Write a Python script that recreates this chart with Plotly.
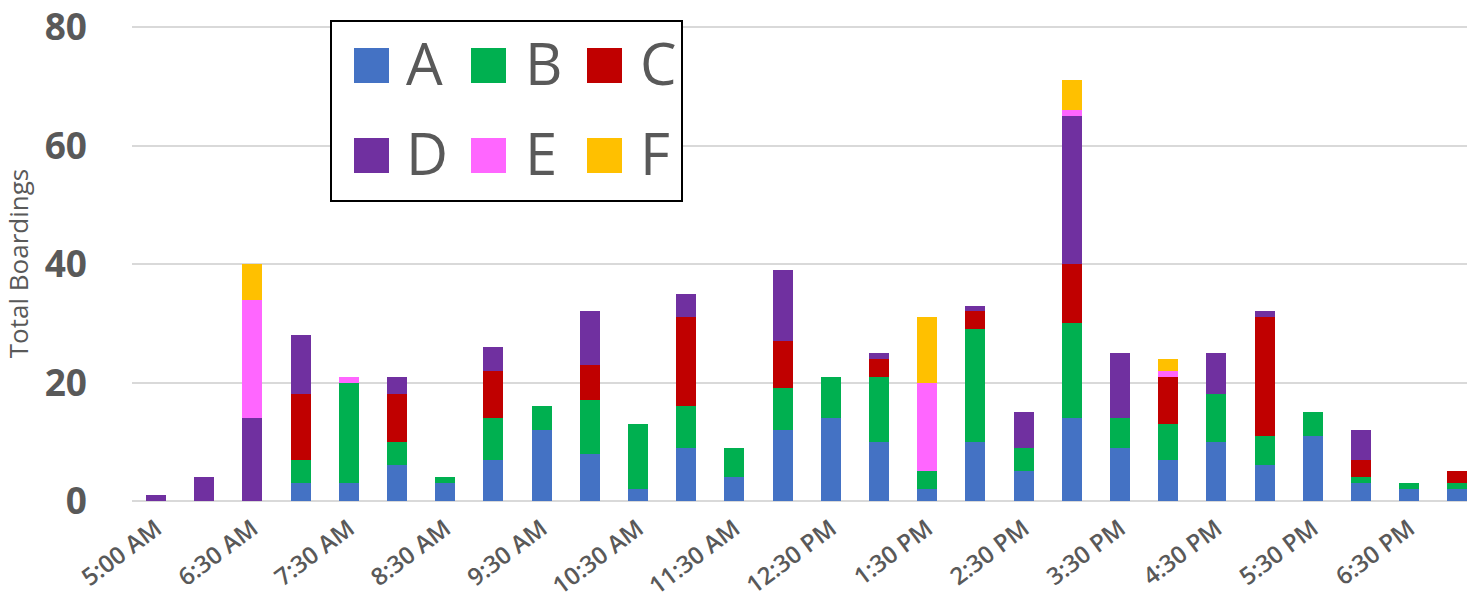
import plotly.graph_objects as go

times = ["5:00 AM", "6:00 AM", "6:30 AM", "7:00 AM", "7:30 AM", "8:00 AM", "8:30 AM",
         "9:00 AM", "9:30 AM", "10:00 AM", "10:30 AM", "11:00 AM", "11:30 AM", "12:00 PM",
         "12:30 PM", "1:00 PM", "1:30 PM", "2:00 PM", "2:30 PM", "3:00 PM", "3:30 PM",
         "4:00 PM", "4:30 PM", "5:00 PM", "5:30 PM", "6:00 PM", "6:30 PM", "7:00 PM"]
tick_labels = times[0::2]

series_names = ["A", "B", "C", "D", "E", "F"]
series_colors = ["#4472C4", "#00B050", "#C00000", "#7030A0", "#FF66FF", "#FFC000"]

A = [0, 0, 0, 3, 3, 6, 3, 7, 12, 8, 2, 9, 4, 12, 14, 10, 2, 10, 5, 14, 9, 7, 10, 6, 11, 3, 2, 2]
B = [0, 0, 0, 4, 17, 4, 1, 7, 4, 9, 11, 7, 5, 7, 7, 11, 3, 19, 4, 16, 5, 6, 8, 5, 4, 1, 1, 1]
C = [0, 0, 0, 11, 0, 8, 0, 8, 0, 6, 0, 15, 0, 8, 0, 3, 0, 3, 0, 10, 0, 8, 0, 20, 0, 3, 0, 2]
D = [1, 4, 14, 10, 0, 3, 0, 4, 0, 9, 0, 4, 0, 12, 0, 1, 0, 1, 6, 25, 11, 0, 7, 1, 0, 5, 0, 0]
E = [0, 0, 20, 0, 1, 0, 0, 0, 0, 0, 0, 0, 0, 0, 0, 0, 15, 0, 0, 1, 0, 1, 0, 0, 0, 0, 0, 0]
F = [0, 0, 6, 0, 0, 0, 0, 0, 0, 0, 0, 0, 0, 0, 0, 0, 11, 0, 0, 5, 0, 2, 0, 0, 0, 0, 0, 0]
series_values = [A, B, C, D, E, F]

y_ticks = [0, 20, 40, 60, 80]
y_title = "Total Boardings"

TEXT = "#595959"
FONT = "Open Sans"

# body margin is removed after render, so the figure fills the 1467x602 window
W, H = 1467, 602
PLOT_L, PLOT_R, PLOT_T, PLOT_B = 132, 1467, 26, 501   # page pixels
ML, MR, MT, MB = PLOT_L, W - PLOT_R, PLOT_T, H - PLOT_B
PW, PH = PLOT_R - PLOT_L, PLOT_B - PLOT_T

fig = go.Figure()
for name, color, vals in zip(series_names, series_colors, series_values):
    fig.add_trace(go.Bar(x=times, y=vals, name=name, marker=dict(color=color, line=dict(width=0)),
                         showlegend=False))


def px_x(px):
    return (px - PLOT_L) / PW


def px_y(py):
    return (PLOT_B - py) / PH


# custom legend box with large square keys
shapes = [dict(type="rect", xref="paper", yref="paper", x0=px_x(331), x1=px_x(682),
               y0=px_y(201), y1=px_y(21), line=dict(color="black", width=2),
               fillcolor="white", layer="above")]
annotations = []
col_sq = [354, 471, 587]
col_tx = [404, 523, 638]
row_top = [48, 138]
sq = 35
for i, (name, color) in enumerate(zip(series_names, series_colors)):
    r, c = divmod(i, 3)
    shapes.append(dict(type="rect", xref="paper", yref="paper",
                       x0=px_x(col_sq[c]), x1=px_x(col_sq[c] + sq),
                       y0=px_y(row_top[r] + sq), y1=px_y(row_top[r]),
                       line=dict(width=0), fillcolor=color, layer="above"))
    annotations.append(dict(xref="paper", yref="paper", x=px_x(col_tx[c]),
                            y=px_y(row_top[r] + sq / 2 - 3), text=name, showarrow=False,
                            xanchor="left", yanchor="middle",
                            font=dict(family=FONT, size=58, color=TEXT)))

fig.update_layout(
    width=W, height=H,
    margin=dict(l=ML, r=MR, t=MT, b=MB, autoexpand=False),
    barmode="stack", bargap=0.585,
    plot_bgcolor="white", paper_bgcolor="white",
    font=dict(family=FONT, color=TEXT),
    shapes=shapes, annotations=annotations,
    xaxis=dict(
        type="category", categoryorder="array", categoryarray=times,
        range=[-0.5, 27.2], automargin=False,
        tickmode="array", tickvals=tick_labels, ticktext=tick_labels,
        tickangle=-37, tickfont=dict(family=FONT, size=24, color=TEXT, weight=600),
        ticklabelstandoff=8, ticklabeloverflow="allow",
        showgrid=False, showline=False, ticks="", zeroline=False,
    ),
    yaxis=dict(
        range=[0, 80.2], tickmode="array", tickvals=y_ticks, automargin=False,
        tickfont=dict(family=FONT, size=37, color=TEXT, weight="bold"),
        ticklabelstandoff=44, ticklabeloverflow="allow",
        showgrid=True, gridcolor="#D9D9D9", gridwidth=2,
        zeroline=True, zerolinecolor="#D9D9D9", zerolinewidth=2,
        showline=False, ticks="",
        title=dict(text=y_title, font=dict(family=FONT, size=26, color=TEXT), standoff=11),
    ),
)

fig.write_html("out.html", config={"displayModeBar": False},
               post_script="document.body.style.margin='0';document.body.style.overflow='hidden';")
